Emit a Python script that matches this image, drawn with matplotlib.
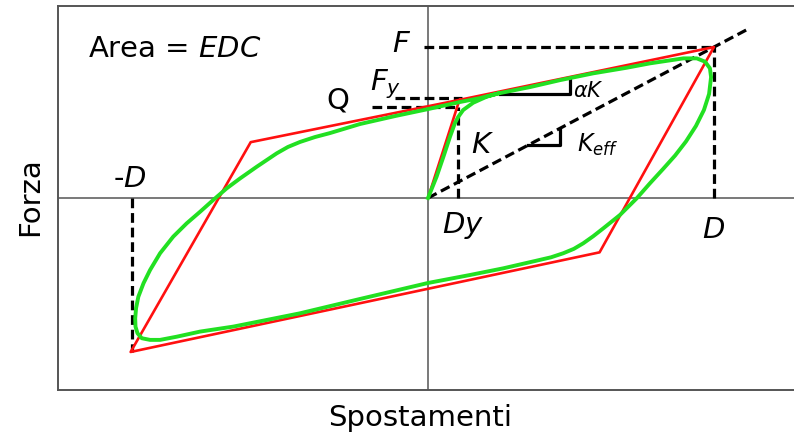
import matplotlib
matplotlib.use("Agg")
import matplotlib.pyplot as plt

plt.rcParams["font.family"] = "DejaVu Sans"
plt.rcParams["mathtext.fontset"] = "dejavusans"
plt.rcParams["lines.scale_dashes"] = False

# bilinear model (red): origin -> yield -> F -> unload -> -D -> reload -> yield
red_x = [0, 11, 100, 60, -104, -62, 11]
red_y = [0, 65, 100, -36, -102, 37, 65]

green_x = [0, 3.0, 5.4, 7.7, 9.4, 10.6, 12.3, 15.8, 20.5, 24.6, 35.7,
           46.2, 57.8, 69.5, 77.6, 89.3, 94.0, 96.9, 98.6, 99.0, 98.3, 96.5,
           93.7, 90.2, 86.4, 82.2, 77.6, 73.0, 67.1, 61.3, 57.8, 54.3, 51.0,
           47.3, 43.0, 38.0, 26.3, 14.7, 0, -23.8, -44.8, -56.4, -68.1, -79.7,
           -87.9, -93.7, -97.2, -100.1, -101.6, -102.3, -102.4, -102.1, -101.3,
           -99.5, -97.2, -93.7, -89.1, -84.4, -79.7, -75.1, -70.4, -65.7,
           -59.9, -52.9, -49.0, -44.8, -39.5, -34.3, -23.8, -11.5, 0, 11.2,
           18.2, 24.6]
green_y = [0, 14.1, 27.4, 40.6, 49.5, 53.8, 58.3, 63.1, 67.1, 69.3, 73.5,
           78.1, 82.6, 86.3, 89.2, 92.5, 92.5, 90.3, 85.9, 80.1, 68.9, 58.3,
           47.7, 37.4, 28.1, 19.2, 9.7, -0.2, -11.3, -20.1, -25.3, -30.0, -33.7,
           -36.6, -39.3, -41.5, -46.6, -51.0, -56.3, -66.9, -76.4, -80.8, -85.2,
           -88.5, -91.9, -94.0, -94.0, -92.9, -89.6, -85.2, -79.7, -73.0, -65.4,
           -56.5, -47.7, -36.6, -25.6, -16.8, -9.1, -1.3, 6.4, 13.0,
           20.7, 29.6, 33.8, 37.1, 40.4, 43.0, 49.0, 54.3, 58.9, 63.6,
           66.2, 69.3]

D = 100
F = 100
minus_D = -103.5
D_min_force = -102
Dy = 10.5
Q = 60.3
Fy = 66.2

fig = plt.figure(figsize=(7.94, 4.34), dpi=100)
ax = fig.add_axes([58 / 794, 44 / 434, 1 - 58 / 794, 384 / 434])
ax.set_xlim(-129.4, 128.0)
ax.set_ylim(-127.2, 127.2)
ax.set_xticks([])
ax.set_yticks([])
for s in ["left", "top", "bottom"]:
    ax.spines[s].set_color("#555555")
    ax.spines[s].set_linewidth(1.4)
ax.spines["right"].set_visible(False)

ax.axhline(0, color="#555555", lw=1.1, zorder=1)
ax.axvline(0, color="#555555", lw=1.1, zorder=1)

dash = dict(color="black", lw=2.3, linestyle=(0, (7, 3.5)), zorder=3)
ax.plot([-1.4, D], [F, F], **dash)
ax.plot([D, D], [0, F], **dash)
ax.plot([-19.6, Dy], [Q, Q], **dash)
ax.plot([-11.5, 11.9], [Fy, Fy], **dash)
ax.plot([Dy, Dy], [0, Q], **dash)
ax.plot([0, 111.9], [0, 111.9], **dash)
ax.plot([minus_D, minus_D], [0, D_min_force], **dash)

# slope triangles
ax.plot([25.2, 49.7, 49.7], [68.9, 68.9, 79.5], color="black", lw=2.3, zorder=3)
ax.plot([35, 46.2, 46.2], [35.1, 35.1, 45], color="black", lw=2.3, zorder=3)

ax.plot(red_x, red_y, color="#ff1010", lw=1.9, zorder=4)
ax.plot(green_x, green_y, color="#22e022", lw=2.8, zorder=5,
        solid_joinstyle="round")

fs = 21
ax.text(-118.9, 93.4, "Area = $EDC$", fontsize=fs, ha="left", va="baseline")
ax.text(-9.1, 96.7, "$F$", fontsize=fs, ha="center", va="baseline")
ax.text(-20.3, 71.5, "$F_y$", fontsize=fs, ha="left", va="baseline")
ax.text(-31.5, 59.6, "Q", fontsize=fs, ha="center", va="baseline")
ax.text(18.9, 29.8, "$K$", fontsize=fs, ha="center", va="baseline")
ax.text(50.7, 66.9, r"$\alpha K$", fontsize=15, ha="left", va="baseline")
ax.text(52.1, 30.5, r"$K_{eff}$", fontsize=17, ha="left", va="baseline")
ax.text(4.9, -23.2, "$Dy$", fontsize=fs, ha="left", va="baseline")
ax.text(D, -26.5, "$D$", fontsize=fs, ha="center", va="baseline")
ax.text(-104.2, 7.3, "-$D$", fontsize=fs, ha="center", va="baseline")

fig.text(30 / 794, 1 - 197 / 434, "Forza", fontsize=fs, rotation=90,
         ha="center", va="center")
fig.text(420 / 794, 1 - 418 / 434, "Spostamenti", fontsize=fs,
         ha="center", va="center")

fig.savefig("out.png", dpi=100)
